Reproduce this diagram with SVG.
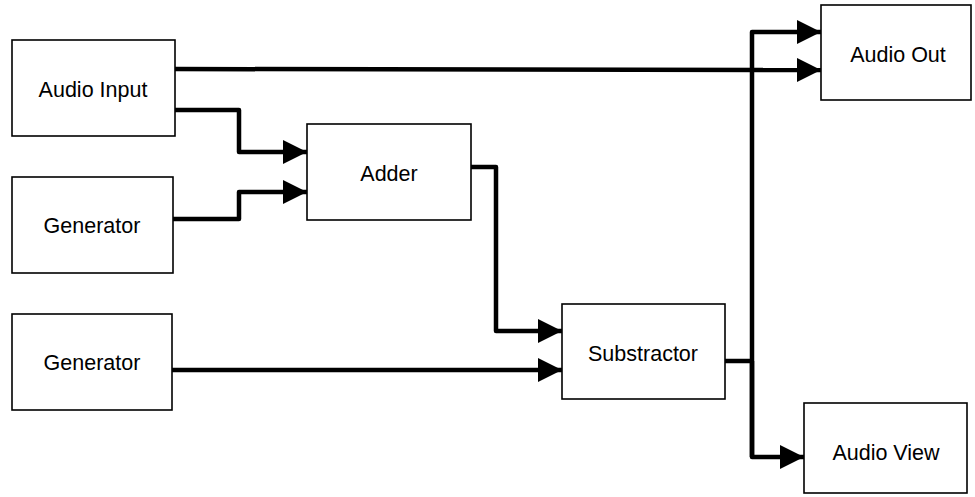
<svg xmlns="http://www.w3.org/2000/svg" width="975" height="497" viewBox="0 0 975 497">
<style>
.box{fill:#fff;stroke:#000;stroke-width:1.6}
.lbl{font-family:"Liberation Sans",Arial,sans-serif;font-size:21.5px;fill:#000;text-anchor:middle}
.wire{fill:none;stroke:#000;stroke-width:4.5;stroke-linejoin:round}
.arr{fill:none;stroke:#000;stroke-width:4.5;stroke-linejoin:round;marker-end:url(#ah)}
</style>
<defs>
<marker id="ah" viewBox="0 0 24 24" refX="24" refY="12" markerWidth="24" markerHeight="24" markerUnits="userSpaceOnUse" orient="auto">
<path d="M0,0 L24,12 L0,24 z" fill="#000"/>
</marker>
</defs>
<rect width="975" height="497" fill="#fff"/>
<g id="connectors">
<path class="arr" d="M175,69 L821,70"/>
<path class="arr" d="M175,110 L239,110 L239,152 L307,152"/>
<path class="arr" d="M173,219 L239,219 L239,192 L307,192"/>
<path class="arr" d="M471,167 L496,167 L496,331 L562,331"/>
<path class="arr" d="M172,370 L562,370"/>
<path class="wire" d="M725,361 L752,361"/>
<path class="arr" d="M752,457 L752,32 L821,32"/>
<path class="arr" d="M752,361 L752,457 L804,457"/>
</g>
<g id="audio-input">
<rect class="box" x="12" y="40" width="163" height="96"/>
<text class="lbl" x="93" y="97">Audio Input</text>
</g>
<g id="generator-1">
<rect class="box" x="12" y="177" width="161" height="96"/>
<text class="lbl" x="92" y="233">Generator</text>
</g>
<g id="generator-2">
<rect class="box" x="12" y="314" width="160" height="96"/>
<text class="lbl" x="92" y="370">Generator</text>
</g>
<g id="adder">
<rect class="box" x="307" y="124" width="164" height="96"/>
<text class="lbl" x="389" y="181">Adder</text>
</g>
<g id="substractor">
<rect class="box" x="562" y="304" width="163" height="95"/>
<text class="lbl" x="643" y="361">Substractor</text>
</g>
<g id="audio-out">
<rect class="box" x="821" y="5" width="150" height="95"/>
<text class="lbl" x="898" y="62">Audio Out</text>
</g>
<g id="audio-view">
<rect class="box" x="804" y="403" width="163" height="90"/>
<text class="lbl" x="886" y="460">Audio View</text>
</g>
</svg>
